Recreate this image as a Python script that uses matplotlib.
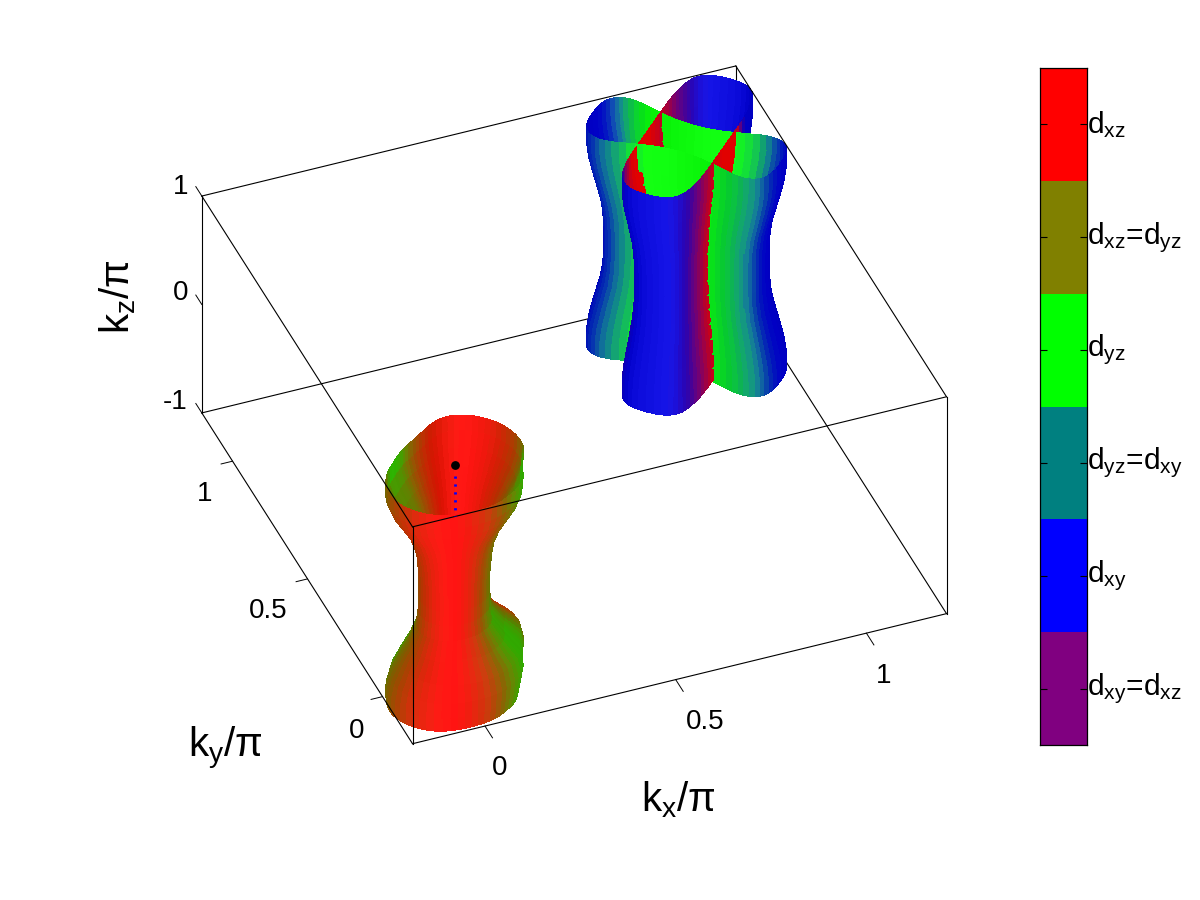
import numpy as np
import matplotlib
matplotlib.use("Agg")
import matplotlib.pyplot as plt
from matplotlib.colors import LinearSegmentedColormap, ListedColormap
from mpl_toolkits.mplot3d import proj3d
from mpl_toolkits.mplot3d.art3d import Poly3DCollection

plt.rcParams["font.family"] = ["Liberation Sans", "DejaVu Sans"]
plt.rcParams["mathtext.fontset"] = "custom"
plt.rcParams["mathtext.rm"] = "Liberation Sans"
plt.rcParams["mathtext.it"] = "Liberation Sans"
plt.rcParams["mathtext.bf"] = "Liberation Sans"
plt.rcParams["mathtext.default"] = "regular"

# orbital scale, bottom to top of the colorbar
orbital_colors = ["#800080", "#0000ff", "#008080", "#00ff00", "#808000", "#ff0000"]
orbital_labels = [r"$d_{xy}$=$d_{xz}$", r"$d_{xy}$", r"$d_{yz}$=$d_{xy}$",
                  r"$d_{yz}$", r"$d_{xz}$=$d_{yz}$", r"$d_{xz}$"]

kz_levels = [-1, -0.875, -0.75, -0.625, -0.5, -0.375, -0.25, -0.125, 0,
             0.125, 0.25, 0.375, 0.5, 0.625, 0.75, 0.875, 1]
angles_deg = list(range(0, 360, 5))

# pocket around (0, 0): radius against angle, width and colour changes along kz
gamma_radius = [0.178, 0.180, 0.181, 0.183, 0.184, 0.185, 0.186, 0.187, 0.187,
                0.187, 0.187, 0.187, 0.186, 0.185, 0.184, 0.180, 0.175, 0.168,
                0.160, 0.152, 0.145, 0.141, 0.137, 0.135, 0.133, 0.133, 0.133,
                0.135, 0.137, 0.139, 0.142, 0.146, 0.150, 0.157, 0.165, 0.172,
                0.180, 0.188, 0.195, 0.202, 0.208, 0.212, 0.215, 0.217, 0.218,
                0.218, 0.218, 0.217, 0.215, 0.212, 0.208, 0.205, 0.202, 0.200,
                0.198, 0.197, 0.195, 0.193, 0.190, 0.188, 0.187, 0.185, 0.183,
                0.179, 0.175, 0.170, 0.165, 0.164, 0.163, 0.166, 0.170, 0.174]
gamma_width_left = [1.0, 1.0, 0.93, 0.80, 0.66, 0.56, 0.53, 0.52, 0.52,
                    0.53, 0.55, 0.60, 0.68, 0.80, 0.92, 1.0, 1.0]
gamma_width_right = [0.92, 0.96, 1.0, 0.95, 0.72, 0.53, 0.50, 0.50, 0.50,
                     0.52, 0.54, 0.58, 0.66, 0.78, 0.90, 0.98, 1.0]
gamma_orbital = [0.9, 0.75, 0.6, 0.5, 0.4, 0.32, 0.24, 0.18, 0.12,
                 0.09, 0.06, 0.05, 0.04, 0.07, 0.1, 0.13, 0.16, 0.2,
                 0.24, 0.32, 0.4, 0.5, 0.6, 0.72, 0.84, 0.97, 1.1,
                 1.25, 1.4, 1.5, 1.55, 1.6, 1.6, 1.6, 1.4, 1.2,
                 1.05, 0.95, 0.85, 0.75, 0.65, 0.55, 0.45, 0.35, 0.25,
                 0.18, 0.12, 0.07, 0.03, 0.02, 0.06, 0.12, 0.2, 0.3,
                 0.4, 0.55, 0.7, 0.85, 1.0, 1.15, 1.3, 1.4, 1.5,
                 1.55, 1.55, 1.55, 1.55, 1.5, 1.45, 1.35, 1.2, 1.05]
gamma_orbital_kz = [1.0, 1.0, 1.0, 1.0, 0.95, 0.85, 0.75, 0.7, 0.7,
                    0.7, 0.7, 0.7, 0.7, 0.75, 0.85, 1.0, 1.0]

# pockets around (1, 1): two crossing sheets with their long axes along the diagonals
m_major = [0.25, 0.25, 0.245, 0.236, 0.226, 0.216, 0.21, 0.208, 0.208,
           0.208, 0.21, 0.216, 0.226, 0.236, 0.245, 0.25, 0.25]
m_narrow = [1.0, 1.0, 0.97, 0.92, 0.87, 0.83, 0.80, 0.78, 0.78,
            0.78, 0.80, 0.83, 0.87, 0.92, 0.97, 1.0, 1.0]
# half width of each sheet going from a tip to the middle
sheet_a_width = [0.0, 0.021, 0.038, 0.052, 0.063, 0.072, 0.079, 0.084, 0.088, 0.091,
                 0.094, 0.096, 0.097, 0.098, 0.098, 0.098, 0.098, 0.098, 0.098]
sheet_b_width = [0.0, 0.024, 0.042, 0.056, 0.068, 0.076, 0.082, 0.086, 0.088, 0.087,
                 0.085, 0.08, 0.075, 0.07, 0.065, 0.06, 0.057, 0.055, 0.054]
sheet_a_offset = (-0.002, -0.012)
sheet_b_offset = (-0.007, -0.018)
sheet_a_orbital = [4, 4, 4, 4.05, 4.1, 4.2, 4.3, 4.45, 4.6, 4.75, 4.9, 5.1, 5.3, 5.45, 5.6, 5.7, 5.8, 5.9,
                   6, 6, 6, 6, 6, 5.95, 5.8, 5.5, 5.2, 4.85, 4.5, 4.3, 4.1, 4.05, 4, 4, 4, 4,
                   4, 4, 4, 4.05, 4.1, 4.2, 4.3, 4.4, 4.6, 4.8, 5.0, 5.2, 5.4, 5.6, 5.75, 5.9, 5.95, 6,
                   6, 6, 6, 5.6, 4.8, 4.2, 4, 4, 4, 4, 4, 4, 4, 4, 4, 4, 4, 4]
sheet_b_orbital = [4, 4, 3.95, 3.9, 3.8, 3.7, 3.6, 3.4, 3.2, 3, 2.8, 2.6, 2.3, 2.15, 2, 2, 2, 2,
                   2, 2, 2, 2, 2.05, 2.15, 2.25, 2.35, 2.45, 2.6, 2.75, 2.9, 3.1, 3.3, 3.5, 3.7, 3.85, 3.95,
                   4, 4, 4, 3.95, 3.9, 3.8, 3.6, 3.4, 3.1, 2.8, 2.5, 2.3, 2.15, 2.05, 2, 2, 2, 2,
                   2, 2, 2, 2, 2, 2, 2.05, 2.15, 2.3, 2.5, 2.75, 3.0, 3.25, 3.5, 3.7, 3.85, 3.95, 4]

# marked point and the dotted line under it
marker_kz = [0.97]
dotted_kz = [0.87, 0.5]

xlim = (-0.19, 1.21)
ylim = (-0.2, 1.205)
zlim = (-1, 1)
x_ticks = [0, 0.5, 1]
y_ticks = [0, 0.5, 1]
z_ticks = [-1, 0, 1]

cycle = LinearSegmentedColormap.from_list(
    "orbital",
    ["#ff0000", "#808000", "#00ff00", "#008080", "#0000e0", "#800080", "#ff0000"],
    N=512,
)


def shaded(values, normals, view):
    rgb = cycle(np.asarray(values) / 6.0)[:, :3]
    facing = np.abs(normals @ view)
    factor = 0.84 + 0.10 * facing
    rgb = rgb * factor[:, None] + 0.08 * (facing[:, None] ** 4)
    return np.clip(rgb, 0, 1)


def build_polys(x, y, z, orbital):
    # x, y have shape (levels, angles); orbital has the same shape
    polys, vals, normals = [], [], []
    n_lev, n_ang = x.shape
    for k in range(n_lev - 1):
        for i in range(n_ang):
            j = (i + 1) % n_ang
            polys.append([(x[k, i], y[k, i], z[k]), (x[k, j], y[k, j], z[k]),
                          (x[k + 1, j], y[k + 1, j], z[k + 1]), (x[k + 1, i], y[k + 1, i], z[k + 1])])
            vals.append(orbital[k, i])
            tx, ty = x[k, j] - x[k, i], y[k, j] - y[k, i]
            size = np.hypot(tx, ty) + 1e-9
            normals.append((ty / size, -tx / size))
    return polys, np.array(vals), np.array(normals)


def add_polys(ax, polys, vals, normals, view):
    rgb = shaded(vals, normals, view)
    coll = Poly3DCollection(polys, facecolors=rgb, edgecolors=rgb, linewidths=0.4,
                            zsort="average", antialiased=False)
    coll.set_zorder(3)
    ax.add_collection3d(coll)


def signed_width(quarter):
    half = quarter + quarter[-2:0:-1]
    return np.array(half + [-w for w in half])


fig = plt.figure(figsize=(12, 9), dpi=100)

# square axes centred on the middle of the box
ax = fig.add_axes([112 / 1200, 33 / 900, 900 / 1200, 900 / 900], projection="3d",
                  proj_type="ortho", computed_zorder=False)
ax.set_axis_off()
ax.view_init(elev=38.2, azim=-111.5)
ax.set_xlim(*xlim)
ax.set_ylim(*ylim)
ax.set_zlim(*zlim)
aspect = (574, 575, 276)
ax.set_box_aspect(aspect, zoom=1.0)
fig.canvas.draw()


def to_px(x, y, z):
    px, py, _ = proj3d.proj_transform(x, y, z, ax.get_proj())
    return ax.transData.transform((px, py))


edge = to_px(xlim[1], ylim[0], zlim[0]) - to_px(xlim[0], ylim[0], zlim[0])
ax.set_box_aspect(aspect, zoom=549.6 / np.hypot(*edge))
fig.canvas.draw()

view = np.array([-0.367, -0.93])
theta = np.radians(angles_deg)
levels = np.array(kz_levels)

# pocket at the zone centre, the two silhouettes of the picture have their own width
right_share = 0.5 + 0.5 * np.cos(theta + np.radians(21))
width = (np.outer(gamma_width_right, right_share)
         + np.outer(gamma_width_left, 1 - right_share))
radius = width * np.array(gamma_radius)
gx = radius * np.cos(theta)
gy = radius * np.sin(theta)
polys, vals, normals = build_polys(gx, gy, levels, np.outer(gamma_orbital_kz, gamma_orbital))
add_polys(ax, polys, vals, normals, view)

# two sheets at the zone corner
d = np.sqrt(0.5)
along = np.array(m_major)[:, None] * np.cos(theta)
side_a = np.outer(m_narrow, signed_width(sheet_a_width))
side_b = np.outer(m_narrow, signed_width(sheet_b_width))
a_x = 1 + sheet_a_offset[0] + d * along - d * side_a
a_y = 1 + sheet_a_offset[1] + d * along + d * side_a
b_x = 1 + sheet_b_offset[0] - d * along - d * side_b
b_y = 1 + sheet_b_offset[1] + d * along - d * side_b
orb_a = np.tile(sheet_a_orbital, (len(kz_levels), 1))
orb_b = np.tile(sheet_b_orbital, (len(kz_levels), 1))
polys_a, vals_a, norm_a = build_polys(a_x, a_y, levels, orb_a)
polys_b, vals_b, norm_b = build_polys(b_x, b_y, levels, orb_b)
add_polys(ax, polys_a + polys_b, np.concatenate([vals_a, vals_b]), np.vstack([norm_a, norm_b]), view)

# box edges, split in those behind and in front of the pockets
x0, x1 = xlim
y0, y1 = ylim
z0, z1 = zlim
back_edges = [((x1, x1), (y1, y1), (z0, z1)),
              ((x0, x1), (y1, y1), (z0, z0)),
              ((x1, x1), (y1, y0), (z0, z0))]
front_edges = [((x0, x1), (y0, y0), (z0, z0)),
               ((x0, x0), (y0, y1), (z0, z0)),
               ((x0, x0), (y0, y0), (z0, z1)),
               ((x1, x1), (y0, y0), (z0, z1)),
               ((x0, x0), (y1, y1), (z0, z1)),
               ((x0, x1), (y0, y0), (z1, z1)),
               ((x0, x0), (y0, y1), (z1, z1)),
               ((x0, x1), (y1, y1), (z1, z1)),
               ((x1, x1), (y0, y1), (z1, z1))]
for e in back_edges:
    ax.plot(*e, color="black", lw=0.8, zorder=1)
for e in front_edges:
    ax.plot(*e, color="black", lw=0.8, zorder=5)

for t in x_ticks:
    ax.plot((t, t), (y0, y0 - 0.05), (z0, z0), color="black", lw=0.7, zorder=5)
for t in y_ticks:
    ax.plot((x0, x0 - 0.03), (t, t), (z0, z0), color="black", lw=0.7, zorder=5)
for t in z_ticks:
    ax.plot((x0, x0), (y1, y1 + 0.04), (t, t), color="black", lw=0.7, zorder=5)

ax.plot([0, 0], [0, 0], dotted_kz, color="#0000ff", lw=2, ls=(0, (0.8, 2.05)),
        dash_capstyle="butt", zorder=6)
ax.scatter([0], [0], marker_kz, color="black", s=28, depthshade=False, zorder=7)


def px_text(x, y, s, **kw):
    fig.text(x / 1200, 1 - y / 900, s, ha=kw.pop("ha", "center"), va=kw.pop("va", "center"), **kw)


tick_size = 20
for s, (x, y) in zip(["0", "0.5", "1"], [(500, 768), (705, 722), (884, 676)]):
    px_text(x, y, s, fontsize=tick_size)
for s, (x, y) in zip(["0", "0.5", "1"], [(357, 731), (268, 611), (205, 494)]):
    px_text(x, y, s, fontsize=tick_size)
for s, (x, y) in zip(["-1", "0", "1"], [(175, 402), (181, 293), (181, 187)]):
    px_text(x, y, s, fontsize=tick_size)

px_text(678, 800, r"$k_x/\pi$", fontsize=29)
px_text(225, 748, r"$k_y/\pi$", fontsize=29)
px_text(118, 297, r"$k_z/\pi$", fontsize=29, rotation=90)

# colorbar
cax = fig.add_axes([1040 / 1200, 1 - 745 / 900, 47 / 1200, 677 / 900])
cmap = ListedColormap(orbital_colors)
cax.pcolormesh([0, 1], np.arange(7), np.arange(6)[:, None], cmap=cmap, vmin=0, vmax=5)
cax.set_xticks([])
cax.set_yticks(np.arange(6) + 0.5)
cax.set_yticklabels(orbital_labels, fontsize=21.5, va="center")
cax.yaxis.tick_right()
cax.tick_params(axis="y", direction="in", length=5, width=0.8, pad=0, left=True, right=True)
for spine in cax.spines.values():
    spine.set_linewidth(0.9)

fig.savefig("out.png", dpi=100)
